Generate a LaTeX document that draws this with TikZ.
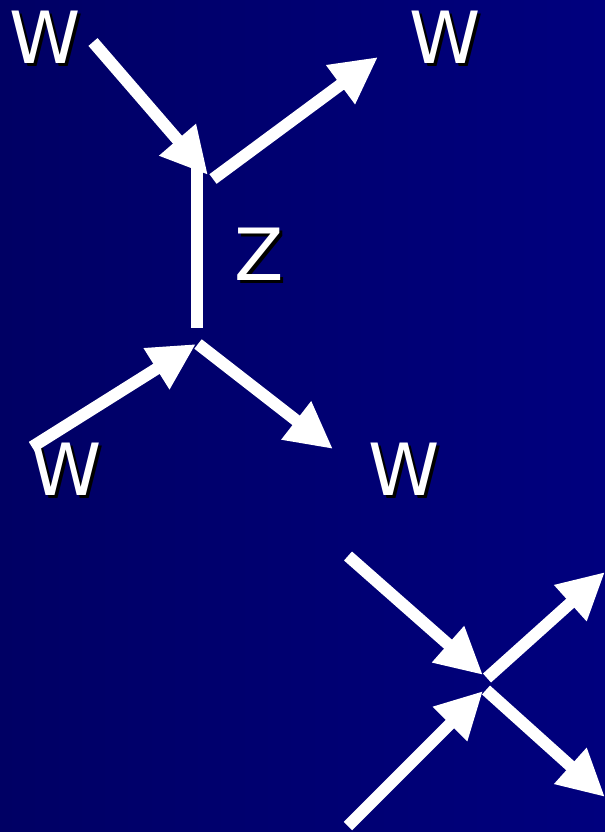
\documentclass[tikz,border=0pt]{standalone}
\usepackage{fontspec}
\setmainfont{DejaVu Sans}
\usetikzlibrary{arrows.meta}
\definecolor{bgleft}{RGB}{0,0,100}
\definecolor{bgright}{RGB}{0,0,126}
\newcommand\shadowtext[1]{\rlap{\hspace{2.25pt}\raisebox{-2.25pt}{\color{black}#1}}#1}
\tikzset{
  line/.style={white, line width=9pt, line cap=butt},
  arr/.style={line, -{Triangle[length=35pt, width=34pt]}},
  lbl/.style={text=white, font=\fontsize{54}{60}\selectfont, inner sep=0pt, anchor=base},
}
\begin{document}
\begin{tikzpicture}[x=0.75pt, y=-0.75pt]
\useasboundingbox (0,0) rectangle (605,832);
\shade[left color=bgleft, right color=bgright] (0,0) rectangle (605,832);
% labels with shadows
\node[lbl] (w1) at (45,63) {\shadowtext{W}};
\node[lbl] (w2) at (445,63) {\shadowtext{W}};
\node[lbl] (z) at (259,280) {\shadowtext{Z}};
\node[lbl] (w3) at (66,495) {\shadowtext{W}};
\node[lbl] (w4) at (404,495) {\shadowtext{W}};
% upper vertex diagram
\coordinate (a1) at (93,42);
\coordinate (t1) at (208,175);
\coordinate (a2) at (213,179);
\coordinate (t2) at (378,57);
\coordinate (vtop) at (197,168);
\coordinate (vbot) at (197,328);
\coordinate (a3) at (32,447);
\coordinate (t3) at (196,344);
\coordinate (a4) at (198,344);
\coordinate (t4) at (333,449);
\draw[arr] (a1) -- (t1);
\draw[arr] (a2) -- (t2);
\draw[line] (vtop) -- (vbot);
\draw[arr] (a3) -- (t3);
\draw[arr] (a4) -- (t4);
% lower contact diagram
\coordinate (b1) at (348,556);
\coordinate (u1) at (483,675);
\coordinate (b2) at (487,678);
\coordinate (u2) at (605,572);
\coordinate (b3) at (348,826);
\coordinate (u3) at (483,691);
\coordinate (b4) at (486,690);
\coordinate (u4) at (605,797);
\draw[arr] (b1) -- (u1);
\draw[arr] (b2) -- (u2);
\draw[arr] (b3) -- (u3);
\draw[arr] (b4) -- (u4);
\end{tikzpicture}
\end{document}
